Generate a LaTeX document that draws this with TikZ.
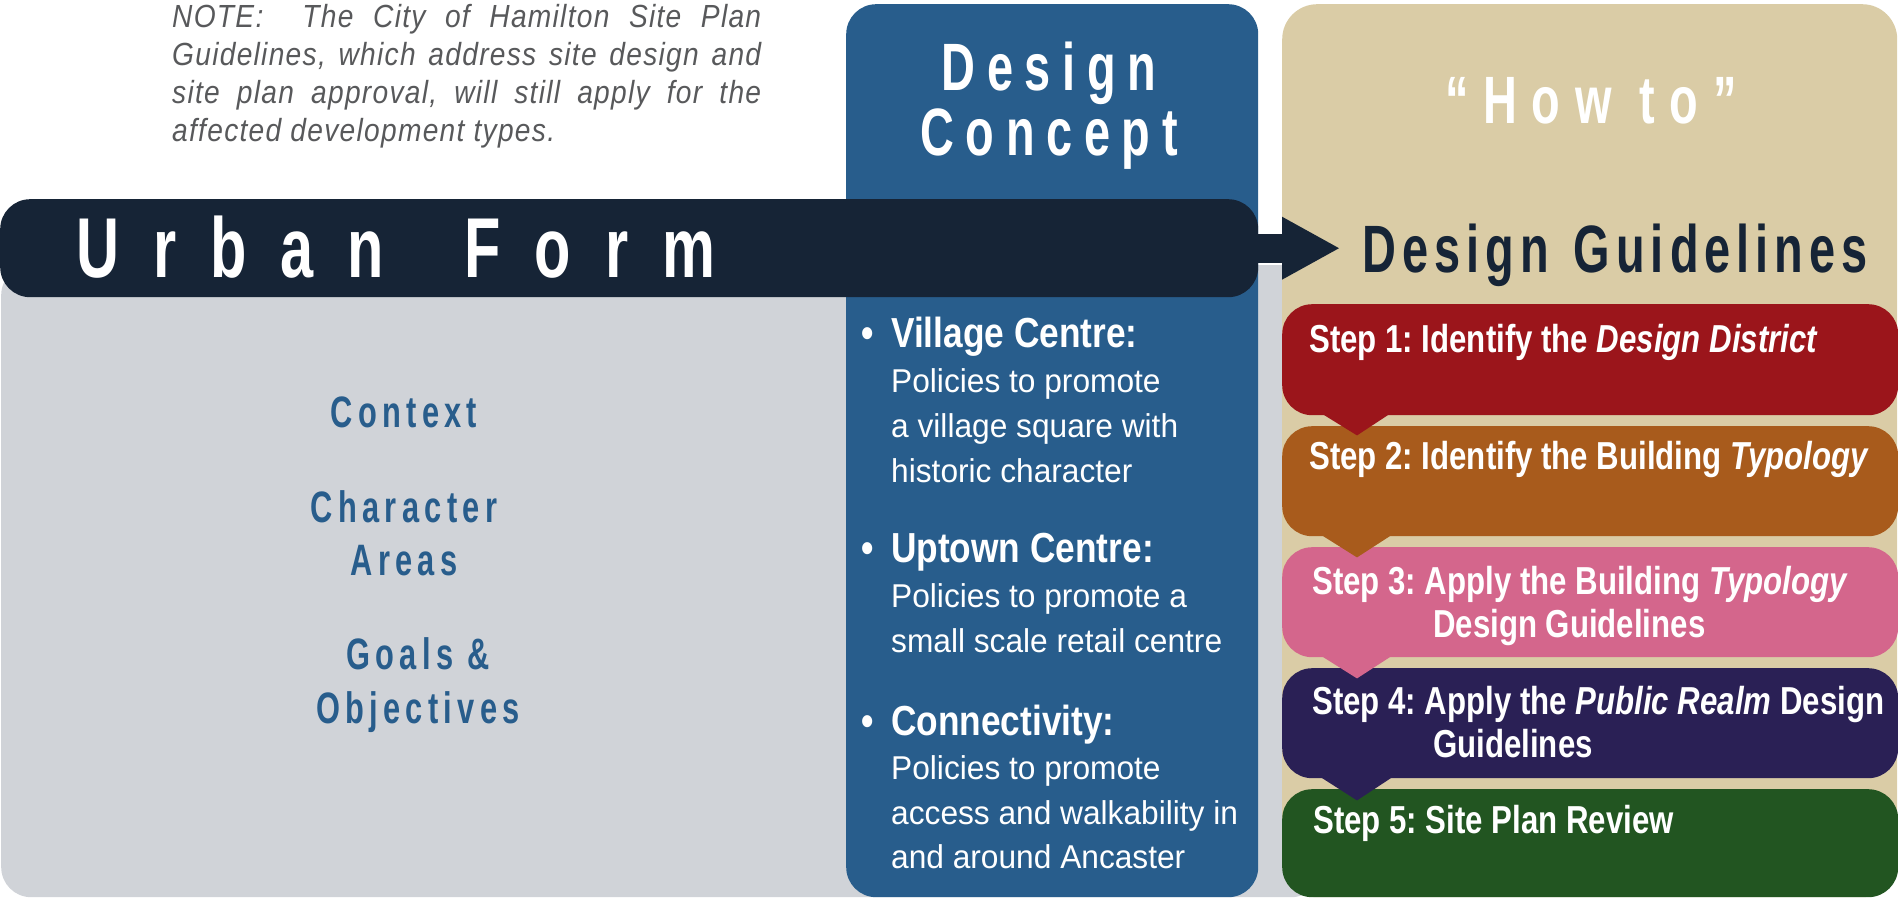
\documentclass[tikz,border=0pt]{standalone}
\usepackage{fontspec}
\setmainfont{Liberation Sans}
\newfontfamily\fntBody[FakeStretch=0.96]{Liberation Sans}
\newfontfamily\fntHead[FakeStretch=0.84]{Liberation Sans}
\newfontfamily\fntStep[FakeStretch=0.80]{Liberation Sans}
\newfontfamily\fntGray[FakeStretch=0.70,LetterSpace=12]{Liberation Sans}
\newfontfamily\fntTitle[FakeStretch=0.70,LetterSpace=17.5]{Liberation Sans}
\newfontfamily\fntHow[FakeStretch=0.70,LetterSpace=22]{Liberation Sans}
\newfontfamily\fntGuide[FakeStretch=0.70,LetterSpace=9]{Liberation Sans}
\newfontfamily\fntUrban[FakeStretch=0.70,LetterSpace=40]{Liberation Sans}
\newfontfamily\fntNote[FakeStretch=0.88,LetterSpace=4]{Liberation Sans}
\usetikzlibrary{arrows.meta,calc}
\frenchspacing

\definecolor{panelgray}{HTML}{D0D3D8}
\definecolor{conceptblue}{HTML}{285D8C}
\definecolor{howtan}{HTML}{DACCA6}
\definecolor{barnavy}{HTML}{162436}
\definecolor{notegray}{HTML}{58595B}
\definecolor{stepA}{HTML}{9B151B}
\definecolor{stepB}{HTML}{A85B1C}
\definecolor{stepC}{HTML}{D4668C}
\definecolor{stepD}{HTML}{2A2055}
\definecolor{stepE}{HTML}{225521}

\tikzset{
  panel/.style={rectangle, inner sep=0pt, anchor=north west, draw=none},
  stepbox/.style={panel, rounded corners=30pt, minimum width=616pt, minimum height=110pt},
  txt/.style={inner sep=0pt, anchor=base west},
  graytxt/.style={inner sep=0pt, anchor=base, text=conceptblue,
    font=\fntGray\bfseries\fontsize{44}{53}\selectfont},
  bullettxt/.style={txt, text=white},
  steptxt/.style={txt, text=white, font=\fntStep\bfseries\fontsize{39}{43.5}\selectfont},
}

\newcommand{\bulhead}[1]{\leavevmode{\fntHead\bfseries\fontsize{42}{45}\selectfont\llap{\makebox[30pt][l]{\textbullet}}#1}}

\begin{document}
\begin{tikzpicture}[x=1pt,y=-1pt]
\useasboundingbox (0,0) rectangle (1898,899);

% background columns
\node[panel, fill=panelgray, rounded corners=30pt, minimum width=1320pt, minimum height=632pt] (formpanel) at (1,265) {};
\node[panel, fill=conceptblue, rounded corners=30pt, minimum width=412pt, minimum height=893pt] (conceptcol) at (846,4) {};
\node[panel, fill=howtan, rounded corners=35pt, minimum width=615pt, minimum height=893pt] (howcol) at (1282,4) {};

% urban form bar
\node[panel, fill=barnavy, rounded corners=30pt, minimum width=1258pt, minimum height=98pt] (formbar) at (0,199) {};
\node[txt, text=white, font=\fntUrban\bfseries\fontsize{85}{90}\selectfont] (urbantitle) at (76,277) {Urban\hspace{30pt} Form};

% design guidelines heading and arrow into it
\node[txt, inner xsep=23pt, inner ysep=0pt, text=barnavy, font=\fntGuide\bfseries\fontsize{67}{70}\selectfont] (guide) at (1339,272) {Design\hspace{6pt} Guidelines};
\draw[barnavy, line width=29pt, -{Triangle[length=57pt,width=63pt,line width=0pt]}] (formbar.east) -- (formbar.east -| guide.west);

% note
\node[txt, text=notegray] (note) at (172,28) {\fntNote\itshape\fontsize{32}{38}\selectfont
  \parbox[t]{589pt}{NOTE:\ \ The City of Hamilton Site Plan\linebreak
  Guidelines, which address site design and\linebreak
  site plan approval, will still apply for the\linebreak
  affected development types.}};

% column titles
\node[inner sep=0pt, anchor=base, text=white, font=\fntTitle\bfseries\fontsize{67}{65}\selectfont] (concepttitle) at (1049,91)
  {\parbox[t]{420pt}{\centering Design\\Concept}};
\node[inner sep=0pt, anchor=base, text=white, font=\fntHow\bfseries\fontsize{67}{70}\selectfont] (howtitle) at (1591,123) {“How to”};

% urban form topics
\node[graytxt] (context) at (404,427) {Context};
\node[graytxt] (charareas) at (404,522) {\parbox[t]{300pt}{\centering Character\\Areas}};
\node[graytxt] (goals) at (418,669) {\parbox[t]{300pt}{\centering\fontsize{44}{54}\selectfont Goals \&\\Objectives}};

% design concept bullets
\node[bullettxt] (village) at (891,347) {\parbox[t]{360pt}{\raggedright\fntBody\fontsize{33}{45}\selectfont
  \bulhead{Village Centre:}\\Policies to promote\\a village square with\\historic character}};
\node[bullettxt] (uptown) at (891,562) {\parbox[t]{360pt}{\raggedright\fntBody\fontsize{33}{45}\selectfont
  \bulhead{Uptown Centre:}\\Policies to promote a\\small scale retail centre}};
\node[bullettxt] (connect) at (891,735) {\parbox[t]{360pt}{\raggedright\fntBody\fontsize{33}{44.5}\selectfont
  \bulhead{Connectivity:}\\Policies to promote\\access and walkability in\\and around Ancaster}};

% steps, drawn bottom-up so each pointer lies over the next box
\node[stepbox, fill=stepE, minimum height=108pt] (s5) at (1282,789) {};
\node[stepbox, fill=stepD] (s4) at (1282,668) {};
\fill[stepD] ($(s4.south west)+(39,-1)$) -- ($(s4.south west)+(110,-1)$) -- ($(s4.south west)+(75,22)$) -- cycle;
\node[stepbox, fill=stepC] (s3) at (1282,547) {};
\fill[stepC] ($(s3.south west)+(40,-1)$) -- ($(s3.south west)+(109,-1)$) -- ($(s3.south west)+(75,21)$) -- cycle;
\node[stepbox, fill=stepB] (s2) at (1282,426) {};
\fill[stepB] ($(s2.south west)+(40,-1)$) -- ($(s2.south west)+(109,-1)$) -- ($(s2.south west)+(75,21)$) -- cycle;
\node[stepbox, fill=stepA, minimum height=111pt] (s1) at (1282,304) {};
\fill[stepA] ($(s1.south west)+(41,-1)$) -- ($(s1.south west)+(107,-1)$) -- ($(s1.south west)+(75,20)$) -- cycle;

\node[steptxt] (s1text) at (1309,352) {Step 1: Identify the \textit{Design District}};
\node[steptxt] (s2text) at (1309,469.5) {Step 2: Identify the Building \textit{Typology}};
\node[steptxt] (s3text) at (1312,594) {\parbox[t]{600pt}{Step 3: Apply the Building \textit{Typology}\\\hspace*{121pt}Design Guidelines}};
\node[steptxt] (s4text) at (1312,714) {\parbox[t]{600pt}{Step 4: Apply the \textit{Public Realm} Design\\\hspace*{121pt}Guidelines}};
\node[steptxt] (s5text) at (1313,833) {Step 5: Site Plan Review};
\end{tikzpicture}
\end{document}
